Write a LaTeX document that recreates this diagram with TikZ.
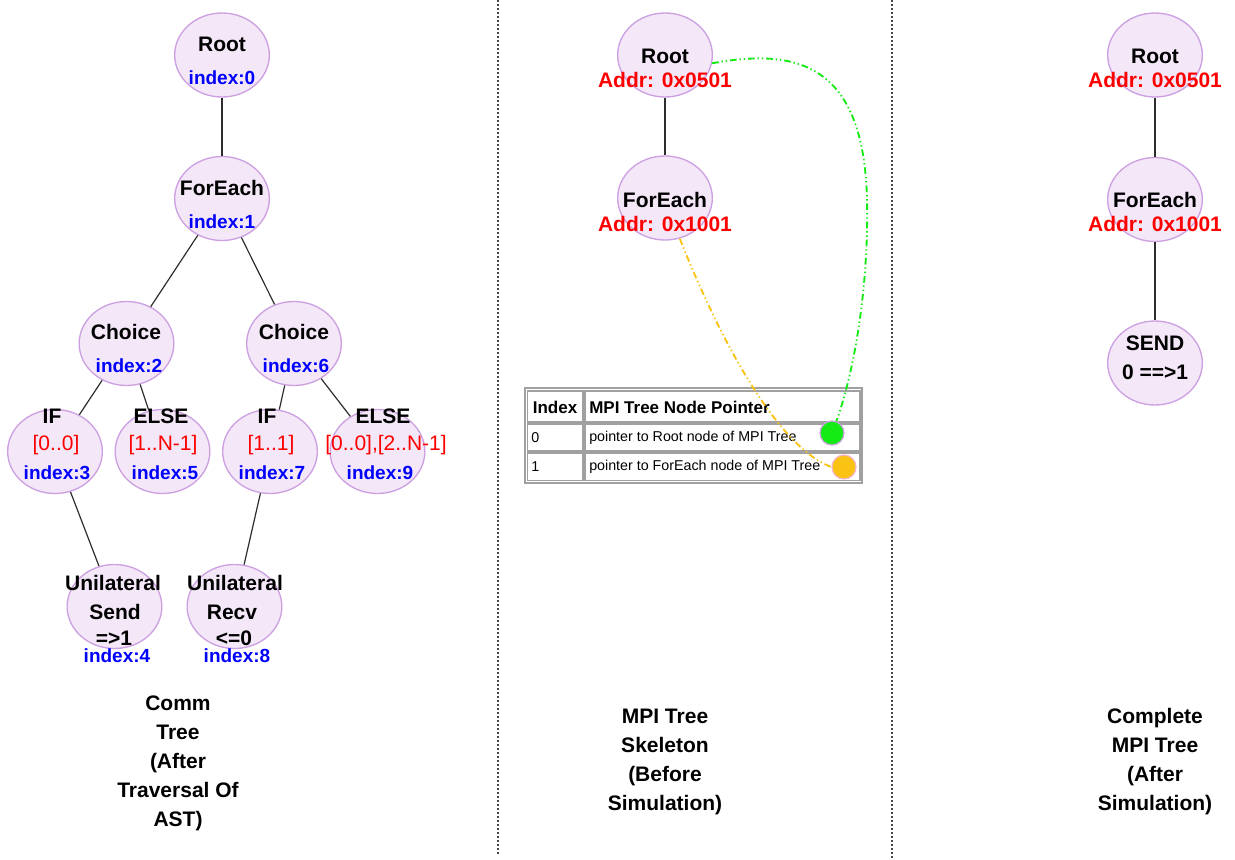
\documentclass[tikz,border=0pt]{standalone}
\usepackage{fontspec}
\setmainfont{Liberation Sans}
\usetikzlibrary{shapes.geometric}

\definecolor{nodefill}{RGB}{243,231,248}
\definecolor{nodeline}{RGB}{205,160,225}
\definecolor{idxblue}{RGB}{0,0,255}
\definecolor{valred}{RGB}{255,0,0}
\definecolor{edgegray}{RGB}{45,45,45}
\definecolor{tablegray}{RGB}{160,160,160}
\definecolor{linkgreen}{RGB}{20,235,20}
\definecolor{linkorange}{RGB}{250,195,20}
\definecolor{dotgray}{RGB}{70,70,70}
\definecolor{dotrim}{RGB}{245,180,200}

\tikzset{
  tnode/.style={ellipse, draw=nodeline, fill=nodefill, line width=1pt,
                minimum width=71pt, minimum height=63pt, inner sep=0pt},
  nodetitle/.style={font=\fontsize{15.75}{18}\selectfont\bfseries, inner sep=0pt},
  idxtxt/.style={font=\fontsize{14.25}{17}\selectfont\bfseries, text=idxblue, inner sep=0pt},
  addrtxt/.style={font=\fontsize{15.75}{18}\selectfont\bfseries, text=valred, inner sep=0pt},
  rangetxt/.style={font=\fontsize{15.75}{18}\selectfont, text=valred, inner sep=0pt},
  captiontxt/.style={font=\fontsize{15.75}{21.75}\selectfont\bfseries, align=center, inner sep=0pt},
  treeedge/.style={draw=edgegray, line width=0.9pt},
  separator/.style={draw=dotgray, line width=0.9pt, dash pattern=on 1.5pt off 1.5pt},
  cellbox/.style={draw=tablegray, line width=1.1pt},
  cellhead/.style={font=\fontsize{12.75}{15}\selectfont\bfseries, inner sep=0pt},
  celltext/.style={font=\fontsize{10.7}{13}\selectfont, inner sep=0pt},
  ptrdot/.style={circle, minimum size=18pt, inner sep=0pt, line width=0.9pt},
  ptrlink/.style={line width=1.4pt, dash pattern=on 5pt off 2.2pt on 1pt off 2.2pt on 1pt off 2.2pt}
}

\begin{document}
\begin{tikzpicture}[x=0.75pt, y=-0.75pt]
\useasboundingbox (0,0) rectangle (1235,860);

% column separators
\draw[separator] (498,0) -- (498,856);
\draw[separator] (892,0) -- (892,858);

% ---------- communication tree ----------
\node[tnode] (root)    at (222,55)    {};
\node[tnode] (foreach) at (222,198.5) {};
\node[tnode] (choiceL) at (126.5,343.5) {};
\node[tnode] (choiceR) at (294,343.5) {};
\node[tnode] (ifL)     at (55,451.5)  {};
\node[tnode] (elseL)   at (162.5,451.5) {};
\node[tnode] (ifR)     at (270,451.5) {};
\node[tnode] (elseR)   at (377.5,451.5) {};
\node[tnode] (sendU)   at (114.5,606.5) {};
\node[tnode] (recvU)   at (234.5,606.5) {};

\draw[treeedge] (root) -- (foreach);
\draw[treeedge] (foreach) -- (choiceL);
\draw[treeedge] (foreach) -- (choiceR);
\draw[treeedge] (choiceL) -- (ifL);
\draw[treeedge] (choiceL) -- (elseL);
\draw[treeedge] (choiceR) -- (ifR);
\draw[treeedge] (choiceR) -- (elseR);
\draw[treeedge] (ifL) -- (sendU);
\draw[treeedge] (ifR) -- (recvU);

\node[nodetitle] (tRoot) at (222,44) {Root};
\node[idxtxt]    (iRoot) at (222,78) {index:0};
\node[nodetitle] (tFe) at (222,188) {ForEach};
\node[idxtxt]    (iFe) at (222,222) {index:1};
\node[nodetitle] (tChL) at (126,332) {Choice};
\node[idxtxt]    (iChL) at (129,366) {index:2};
\node[nodetitle] (tChR) at (294,332) {Choice};
\node[idxtxt]    (iChR) at (296,366) {index:6};
\node[nodetitle] (tIfL) at (52,416) {IF};
\node[rangetxt]  (rIfL) at (56,445) {[0..0]};
\node[idxtxt]    (iIfL) at (57,473) {index:3};
\node[nodetitle] (tElL) at (161,416) {ELSE};
\node[rangetxt]  (rElL) at (163,445) {[1..N-1]};
\node[idxtxt]    (iElL) at (165,473) {index:5};
\node[nodetitle] (tIfR) at (267,416) {IF};
\node[rangetxt]  (rIfR) at (271,445) {[1..1]};
\node[idxtxt]    (iIfR) at (272,473) {index:7};
\node[nodetitle] (tElR) at (383,416) {ELSE};
\node[rangetxt]  (rElR) at (386,445) {[0..0],[2..N-1]};
\node[idxtxt]    (iElR) at (380,473) {index:9};
\node[nodetitle] (tSd1) at (113,583) {Unilateral};
\node[nodetitle] (tSd2) at (115,612) {Send};
\node[nodetitle] (tSd3) at (114,638) {=>1};
\node[idxtxt]    (iSd)  at (117,656) {index:4};
\node[nodetitle] (tRv1) at (235,583) {Unilateral};
\node[nodetitle] (tRv2) at (232,612) {Recv};
\node[nodetitle] (tRv3) at (234,638) {<=0};
\node[idxtxt]    (iRv)  at (237,656) {index:8};

\node[captiontxt] (capL) at (178,763) {Comm\\Tree\\(After\\Traversal Of\\AST)};

% ---------- MPI tree skeleton ----------
\node[tnode] (mroot) at (665,55)  {};
\node[tnode] (mfe)   at (665,198) {};
\draw[treeedge] (mroot) -- (mfe);
\node[nodetitle] (tMRoot) at (665,56) {Root};
\node[addrtxt]   (aMRoot) at (665,80) {Addr: 0x0501};
\node[nodetitle] (tMFe) at (665,200) {ForEach};
\node[addrtxt]   (aMFe) at (665,224) {Addr: 0x1001};

% pointer table
\draw[draw=tablegray, line width=1.5pt] (525,388) rectangle (862,483);
\draw[cellbox] (527.5,391) rectangle (583,422);
\draw[cellbox] (585,391) rectangle (860,422);
\draw[cellbox] (527.5,424) rectangle (583,451);
\draw[cellbox] (585,424) rectangle (860,451);
\draw[cellbox] (527.5,453) rectangle (583,480.5);
\draw[cellbox] (585,453) rectangle (860,480.5);
\node[cellhead] (hIdx) at (555,407) {Index};
\node[cellhead, anchor=west] (hPtr) at (589,407) {MPI Tree Node Pointer};
\node[celltext, anchor=west] (c0) at (531,438) {0};
\node[celltext, anchor=west] (p0) at (589,438) {pointer to Root node of MPI Tree};
\node[celltext, anchor=west] (c1) at (531,467) {1};
\node[celltext, anchor=west] (p1) at (589,467) {pointer to ForEach node of MPI Tree};

\node[ptrdot, fill=linkgreen, draw=nodeline] (gdot) at (832,433) {};
\node[ptrdot, fill=linkorange, draw=dotrim] (odot) at (844,467) {};

\draw[ptrlink, draw=linkgreen] (mroot.-10)
  .. controls (795,48) and (864,62) .. (867,200)
  .. controls (869,300) and (850,385) .. (gdot.70);
\draw[ptrlink, draw=linkorange] (mfe.-70)
  .. controls (712,320) and (772,445) .. (odot.west);

\node[captiontxt] (capM) at (665,762) {MPI Tree\\Skeleton\\(Before\\Simulation)};

% ---------- complete MPI tree ----------
\node[tnode] (rroot) at (1155,55)  {};
\node[tnode] (rfe)   at (1155,199.5) {};
\node[tnode] (rsend) at (1155,363) {};
\draw[treeedge] (rroot) -- (rfe);
\draw[treeedge] (rfe) -- (rsend);
\node[nodetitle] (tRRoot) at (1155,56) {Root};
\node[addrtxt]   (aRRoot) at (1155,80) {Addr: 0x0501};
\node[nodetitle] (tRFe) at (1155,200) {ForEach};
\node[addrtxt]   (aRFe) at (1155,224) {Addr: 0x1001};
\node[nodetitle] (tRS1) at (1155,343) {SEND};
\node[nodetitle] (tRS2) at (1155,372) {0 ==>1};

\node[captiontxt] (capR) at (1155,762) {Complete\\MPI Tree\\(After\\Simulation)};
\end{tikzpicture}
\end{document}
